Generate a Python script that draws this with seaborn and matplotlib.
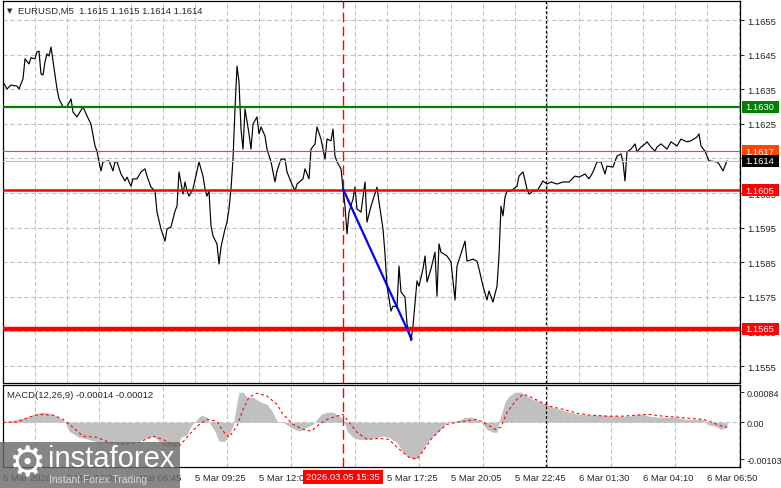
import matplotlib
matplotlib.use("Agg")
import numpy as np
import pandas as pd
import seaborn as sns
import matplotlib.pyplot as plt
import matplotlib.transforms as mtransforms
from matplotlib.patches import Rectangle
from matplotlib.ticker import FixedLocator, MultipleLocator

sns.set_style("white")
plt.rcParams['font.family'] = ['Liberation Sans', 'DejaVu Sans']
plt.rcParams['lines.scale_dashes'] = False

# ---- price data (M5 bars, index from the left edge) ----
bars = [0, 2, 4, 7, 8, 10, 11, 13, 14, 16,
        17, 18, 19, 20, 21, 22, 23, 24, 25, 27,
        28, 30, 32, 34, 35, 37, 40, 42, 44, 46,
        47, 48, 49, 50, 53, 55, 56, 57, 59, 61,
        62, 64, 65, 67, 69, 71, 72, 74, 76, 77,
        79, 81, 82, 84, 86, 87, 88, 90, 91, 92,
        93, 95, 97, 98, 100, 101, 102, 103, 104, 105,
        107, 108, 109, 111, 112, 113, 114, 115, 116, 117,
        118, 119, 120, 121, 123, 124, 125, 127, 128, 129,
        131, 132, 134, 136, 137, 139, 141, 142, 144, 146,
        147, 150, 151, 153, 154, 156, 157, 159, 161, 162,
        164, 165, 166, 167, 169, 170, 171, 172, 173, 175,
        176, 177, 179, 181, 182, 184, 187, 188, 190, 191,
        192, 194, 195, 197, 198, 199, 201, 202, 204, 205,
        207, 208, 210, 211, 212, 214, 216, 217, 218, 219,
        222, 224, 226, 227, 231, 232, 235, 237, 238, 240,
        242, 243, 245, 247, 248, 249, 250, 251, 252, 254,
        257, 258, 260, 262, 263, 265, 267, 270, 272, 274,
        277, 280, 283, 286, 288, 291, 293, 295, 297, 299,
        301, 302, 305, 307, 309, 310, 311, 312, 314, 316,
        317, 319, 321, 322, 324, 326, 327, 329, 332, 334,
        337, 339, 342, 344, 347, 348, 349, 351, 353, 357,
        358, 360, 362]
close = [1.16371, 1.16351, 1.16362, 1.16359, 1.16351, 1.16380, 1.16438, 1.16423, 1.16441, 1.16438,
         1.16458, 1.16460, 1.16394, 1.16391, 1.16429, 1.16452, 1.16446, 1.16472, 1.16432, 1.16351,
         1.16322, 1.16299, 1.16299, 1.16322, 1.16284, 1.16270, 1.16299, 1.16273, 1.16249, 1.16186,
         1.16171, 1.16140, 1.16114, 1.16140, 1.16143, 1.16114, 1.16140, 1.16140, 1.16105, 1.16085,
         1.16096, 1.16070, 1.16091, 1.16091, 1.16111, 1.16120, 1.16099, 1.16067, 1.16056, 1.15995,
         1.15946, 1.15911, 1.15946, 1.15952, 1.15998, 1.16012, 1.16111, 1.16047, 1.16082, 1.16056,
         1.16041, 1.16062, 1.16114, 1.16140, 1.16099, 1.16062, 1.16041, 1.16056, 1.15955, 1.15926,
         1.15903, 1.15845, 1.15894, 1.15946, 1.15966, 1.16004, 1.16062, 1.16148, 1.16293, 1.16417,
         1.16371, 1.16235, 1.16177, 1.16293, 1.16221, 1.16177, 1.16249, 1.16270, 1.16221, 1.16241,
         1.16215, 1.16177, 1.16140, 1.16082, 1.16114, 1.16148, 1.16148, 1.16111, 1.16082, 1.16056,
         1.16076, 1.16091, 1.16120, 1.16091, 1.16177, 1.16192, 1.16241, 1.16206, 1.16148, 1.16206,
         1.16201, 1.16235, 1.16157, 1.16140, 1.16120, 1.16062, 1.16012, 1.15932, 1.15995, 1.16033,
         1.16067, 1.16004, 1.15995, 1.16082, 1.15966, 1.16012, 1.16067, 1.16024, 1.15946, 1.15874,
         1.15781, 1.15709, 1.15723, 1.15721, 1.15839, 1.15764, 1.15749, 1.15671, 1.15623, 1.15666,
         1.15796, 1.15781, 1.15831, 1.15868, 1.15793, 1.15831, 1.15879, 1.15752, 1.15903, 1.15879,
         1.15868, 1.15851, 1.15741, 1.15839, 1.15911, 1.15853, 1.15859, 1.15853, 1.15831, 1.15781,
         1.15741, 1.15767, 1.15735, 1.15781, 1.15868, 1.16012, 1.15984, 1.16038, 1.16056, 1.16056,
         1.16070, 1.16099, 1.16111, 1.16062, 1.16047, 1.16056, 1.16056, 1.16085, 1.16076, 1.16082,
         1.16076, 1.16082, 1.16082, 1.16099, 1.16096, 1.16105, 1.16091, 1.16111, 1.16140, 1.16140,
         1.16105, 1.16128, 1.16125, 1.16157, 1.16163, 1.16140, 1.16085, 1.16169, 1.16177, 1.16192,
         1.16169, 1.16183, 1.16192, 1.16198, 1.16183, 1.16171, 1.16183, 1.16192, 1.16177, 1.16198,
         1.16186, 1.16206, 1.16198, 1.16201, 1.16212, 1.16221, 1.16186, 1.16171, 1.16143, 1.16140,
         1.16134, 1.16114, 1.16143]

# ---- MACD(12,26,9) ----
hist_bars = [0, 7, 12, 15, 20, 25, 28, 31, 33, 38,
             43, 48, 53, 58, 65, 70, 75, 80, 83, 87,
             89, 92, 94, 97, 99, 102, 103, 106, 108, 111,
             113, 115, 117, 118, 120, 122, 125, 128, 132, 134,
             137, 140, 143, 146, 148, 152, 155, 157, 159, 162,
             165, 167, 169, 171, 172, 175, 178, 182, 187, 190,
             193, 197, 200, 203, 205, 207, 209, 212, 215, 218,
             221, 223, 227, 229, 231, 234, 237, 240, 242, 245,
             247, 248, 251, 253, 256, 259, 262, 265, 269, 273,
             278, 283, 288, 293, 300, 307, 313, 317, 320, 323,
             328, 335, 342, 350, 352, 356, 359, 362]
hist_vals = [0, 0.00008, 0.00014, 0.00022, 0.00028, 0.00022, 0.00014, 0, -0.00025, -0.00042,
             -0.00048, -0.00056, -0.00056, -0.00062, -0.00056, -0.00048, -0.00039, -0.00062, -0.00070, -0.00067,
             -0.00042, -0.00034, -0.00011, 0.00008, 0.00020, 0.00014, 0, -0.00025, -0.00053, -0.00053,
             -0.00034, -0.00011, 0.00056, 0.00084, 0.00084, 0.00070, 0.00070, 0.00059, 0.00050, 0.00036,
             0.00003, 0, -0.00011, -0.00020, -0.00025, -0.00014, -0.00006, 0.00008, 0.00022, 0.00028,
             0.00028, 0.00022, 0.00014, -0.00006, -0.00025, -0.00042, -0.00048, -0.00048, -0.00042, -0.00039,
             -0.00042, -0.00056, -0.00084, -0.00098, -0.00103, -0.00100, -0.00084, -0.00056, -0.00039, -0.00025,
             -0.00006, 0.00003, 0.00003, 0.00008, 0.00014, 0.00014, 0.00008, -0.00006, -0.00020, -0.00028,
             -0.00028, 0, 0.00056, 0.00073, 0.00084, 0.00084, 0.00073, 0.00064, 0.00056, 0.00045,
             0.00036, 0.00028, 0.00022, 0.00020, 0.00020, 0.00017, 0.00017, 0.00022, 0.00022, 0.00017,
             0.00014, 0.00014, 0.00008, 0.00008, -0.00006, -0.00011, -0.00020, -0.00014]
sig_bars = [0, 7, 13, 18, 25, 30, 35, 40, 47, 53,
            62, 68, 75, 80, 85, 88, 92, 97, 102, 107,
            110, 113, 117, 120, 123, 127, 132, 137, 140, 145,
            150, 154, 158, 162, 167, 170, 173, 177, 182, 188,
            193, 197, 200, 203, 207, 210, 214, 218, 222, 227,
            231, 236, 239, 242, 246, 249, 252, 257, 260, 263,
            268, 273, 280, 287, 293, 302, 310, 317, 323, 330,
            337, 343, 350, 353, 357, 361, 362]
sig_vals = [0, 0, 0.00014, 0.00022, 0.00020, 0.00008, -0.00014, -0.00039, -0.00042, -0.00056,
            -0.00062, -0.00056, -0.00039, -0.00048, -0.00062, -0.00067, -0.00042, -0.00011, 0.00008, 0.00003,
            -0.00025, -0.00042, -0.00011, 0.00036, 0.00070, 0.00081, 0.00073, 0.00050, 0.00022, -0.00006,
            -0.00020, -0.00025, -0.00006, 0.00008, 0.00017, 0.00022, 0, -0.00028, -0.00048, -0.00045,
            -0.00048, -0.00070, -0.00084, -0.00098, -0.00103, -0.00081, -0.00048, -0.00025, -0.00006, 0,
            0.00003, 0.00008, 0.00003, -0.00006, -0.00020, -0.00014, 0.00028, 0.00064, 0.00078, 0.00073,
            0.00059, 0.00045, 0.00036, 0.00025, 0.00020, 0.00017, 0.00017, 0.00020, 0.00022, 0.00017,
            0.00014, 0.00011, 0.00008, 0.00003, -0.00006, -0.00014, -0.00012]

# ---- levels / objects ----
level_prices = [1.16299, 1.16171, 1.16143, 1.16058, 1.15658]
level_text = ['1.1630', '1.1617', '1.1614', '1.1605', '1.1565']
level_colors = ['#008000', '#ff4500', '#c0c0c0', '#ff0000', '#ff0000']
level_boxes = ['#008000', '#ff4500', '#000000', '#ff0000', '#ff0000']
level_widths = [1.6, 0.8, 0.8, 1.8, 3.2]
trend_bars = [170, 204.3]
trend_prices = [1.16062, 1.15628]
price_ticks = [1.1555, 1.1565, 1.1575, 1.1585, 1.1595, 1.1605, 1.1615, 1.1625, 1.1635, 1.1645, 1.1655]
macd_ticks = [0.00084, 0.0, -0.00103]
macd_tick_text = ['0.00084', '0.00', '-0.00103']
time_ticks = [0, 32, 64, 96, 128, 160, 192, 224, 256, 288, 320, 352]
time_labels = ['5 Mar 2026', '5 Mar 04:05', '5 Mar 06:45', '5 Mar 09:25', '5 Mar 12:05', '5 Mar 14:45',
               '5 Mar 17:25', '5 Mar 20:05', '5 Mar 22:45', '6 Mar 01:30', '6 Mar 04:10', '6 Mar 06:50']
event_bar = 170
event_label = '2026.03.05 15:35'
session_bar = 271.5

W, H = 781, 489
fig = plt.figure(figsize=(W / 100, H / 100), dpi=100)
ax = fig.add_axes([3 / W, 1 - 384 / H, 737 / W, 382 / H])
axm = fig.add_axes([3 / W, 1 - 468 / H, 737 / W, 82 / H])

grid_kw = dict(color='#c0c0c0', lw=0.75, dashes=(3, 2))
for a in (ax, axm):
    a.set_xlim(0, 368.5)
    a.xaxis.set_minor_locator(MultipleLocator(16))
    a.grid(True, which='minor', axis='x', **grid_kw)
    for s in a.spines.values():
        s.set_color('black')
        s.set_linewidth(0.9)

# main price panel
ax.set_ylim(1.15501, 1.16605)
ax.yaxis.set_major_locator(FixedLocator(price_ticks))
ax.set_yticklabels(['%.4f' % t for t in price_ticks])
ax.grid(True, which='major', axis='y', **grid_kw)
ax.yaxis.tick_right()
ax.tick_params(axis='y', direction='out', length=3, width=0.7, pad=2, labelsize=6.8)
ax.tick_params(axis='x', which='both', length=0, labelbottom=False)

sns.lineplot(x=bars, y=close, ax=ax, color='black', lw=0.85, sort=False, zorder=3)
for p, c, w in zip(level_prices, level_colors, level_widths):
    ax.axhline(p, color=c, lw=w, zorder=4)
sns.lineplot(x=trend_bars, y=trend_prices, ax=ax, color='#0000ff', lw=1.6, zorder=5)
ax.axvline(event_bar, color='#ff0000', lw=1.0, dashes=(7, 3), zorder=2)
ax.axvline(session_bar, color='black', lw=0.9, dashes=(2, 1.5), zorder=2)

# level price boxes on the right scale
blend = mtransforms.blended_transform_factory(ax.transAxes, ax.transData)
px_y = (1.16605 - 1.15501) / 382
for p, t, bc in zip(level_prices, level_text, level_boxes):
    ax.add_patch(Rectangle((1 + 2 / 737, p - 6 * px_y), 37 / 737, 12 * px_y, transform=blend,
                           fc=bc, ec='none', clip_on=False, zorder=6))
    ax.text(1 + 5 / 737, p, t, transform=blend, color='white', fontsize=6.8,
            ha='left', va='center', zorder=7, clip_on=False)

# MACD panel
axm.set_ylim(-0.00125, 0.00104)
axm.fill_between(hist_bars, 0, hist_vals, color='#c0c0c0', lw=0, zorder=2)
sns.lineplot(x=sig_bars, y=sig_vals, ax=axm, color='red', lw=0.8, linestyle=(0, (2, 2)),
             sort=False, zorder=3)
axm.axhline(0, **grid_kw, zorder=1)
axm.axvline(event_bar, color='#ff0000', lw=1.0, dashes=(7, 3), zorder=2)
axm.axvline(session_bar, color='black', lw=0.9, dashes=(2, 1.5), zorder=2)
axm.yaxis.set_major_locator(FixedLocator(macd_ticks))
axm.set_yticklabels(macd_tick_text)
axm.yaxis.tick_right()
axm.tick_params(axis='y', direction='out', length=3, width=0.7, pad=1.5, labelsize=6.5)
axm.set_xticks(time_ticks)
axm.set_xticklabels(time_labels, ha='left')
axm.tick_params(axis='x', which='major', direction='out', length=3, width=0.7, pad=1.5, labelsize=6.8)
axm.tick_params(axis='x', which='minor', length=0)
axm.set_xlabel('')
axm.set_ylabel('')
ax.set_xlabel('')
ax.set_ylabel('')


def fx(x):
    return x / W


def fy(y):
    return 1 - y / H


# header texts
fig.text(fx(7), fy(11), '\u25BC', fontsize=5, family='DejaVu Sans', va='center', ha='left')
fig.text(fx(18), fy(11), 'EURUSD,M5  1.1615 1.1615 1.1614 1.1614', fontsize=6.8,
         va='center', ha='left')
axm.text(4 / 737, 1 - 9 / 82, 'MACD(12,26,9) -0.00014 -0.00012', transform=axm.transAxes,
         fontsize=6.8, va='center', ha='left')

# highlighted time of the event
fig.text(fx(343), fy(478), event_label, fontsize=6.8, color='white', ha='center', va='center',
         bbox=dict(boxstyle='square,pad=0.3', fc='#ff0000', ec='none'), zorder=12)

# watermark
fig.patches.append(Rectangle((0, 0), 180 / W, 46 / H, transform=fig.transFigure,
                             fc='#6b6b6b', ec='none', alpha=0.82, zorder=10))
fig.text(fx(27), fy(464), '\u2699', fontsize=30, family='DejaVu Sans', color='white',
         ha='center', va='center', zorder=11)
fig.text(fx(48), fy(459), 'instaforex', fontsize=21, color='white', ha='left', va='center', zorder=11)
fig.text(fx(49), fy(480), 'Instant Forex Trading', fontsize=7.5, color='#d8d8d8',
         ha='left', va='center', zorder=11)

fig.savefig('out.png', dpi=100)
